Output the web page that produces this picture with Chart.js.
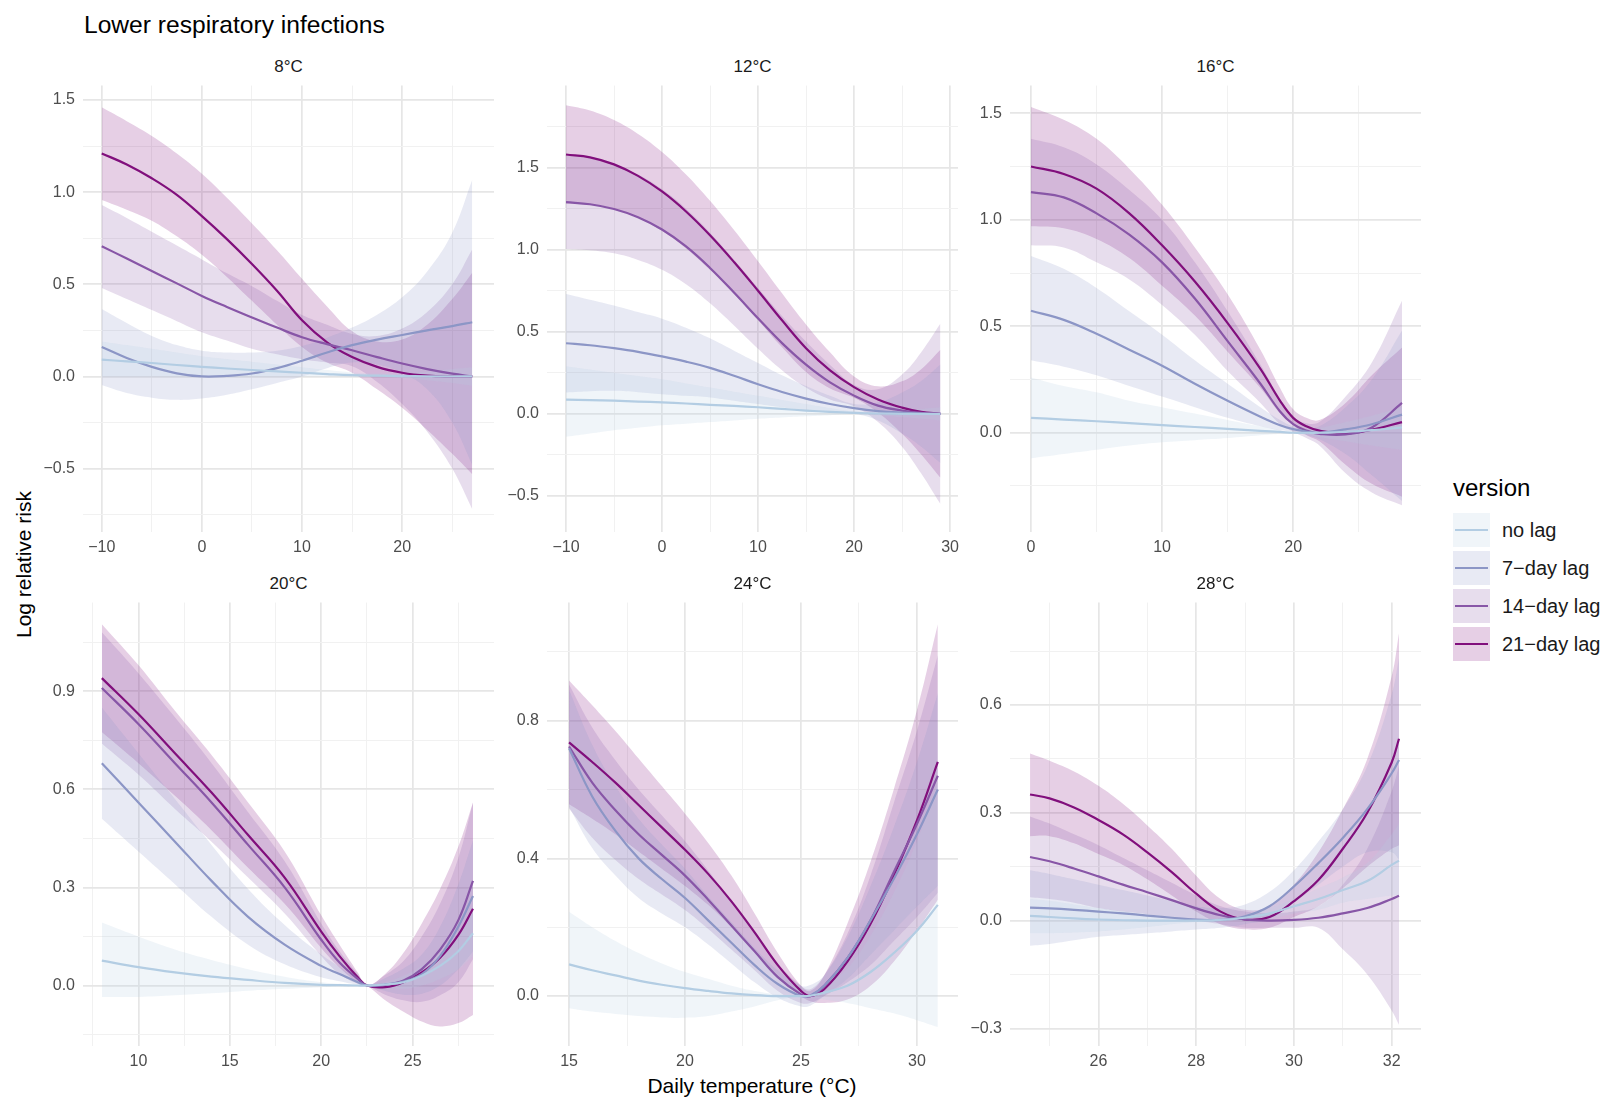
<!DOCTYPE html>
<html>
<head>
<meta charset="utf-8">
<title>Lower respiratory infections</title>
<script src="https://cdn.jsdelivr.net/npm/chart.js@4.4.1/dist/chart.umd.min.js"></script>
<style>
  body { margin: 0; background: #fff; font-family: "Liberation Sans", Arial, sans-serif; }
  #page { position: relative; width: 1608px; height: 1099px; overflow: hidden; background: #fff; }
  #page canvas { position: absolute; }
  .txt { position: absolute; line-height: 1; white-space: nowrap; }
  .strip { width: 411px; text-align: center; font-size: 17px; color: #1a1a1a; }
  .lg-box { position: absolute; width: 37px; height: 34px; }
  .lg-line { position: absolute; left: 2px; width: 33px; height: 2.5px; top: 15.75px; }
</style>
</head>
<body>
<div id="page">
  <div class="txt" style="left:84px; top:13px; font-size:24.6px; color:#000;">Lower respiratory infections</div>
  <div class="txt" style="left:552px; width:400px; text-align:center; top:1075px; font-size:21px; color:#000;">Daily temperature (°C)</div>
  <div class="txt" style="left:-127px; top:554px; width:300px; text-align:center; font-size:21px; color:#000; transform:rotate(-90deg);">Log relative risk</div>
</div>
<script>
// series names and colours (BuPu)
const versions = ['no lag', '7\u2212day lag', '14\u2212day lag', '21\u2212day lag'];
const lineColors = ['#b3cde3', '#8c96c6', '#8856a7', '#810f7c'];

// ---- 8°C ----
const t8_x = [-10, -7.5, -5, -2.5, 0, 2.5, 5, 7.5, 10, 12.5, 15, 17.5, 20, 22.5, 25, 27];
const t8_noLag = [0.091, 0.082, 0.073, 0.062, 0.052, 0.043, 0.035, 0.027, 0.02, 0.013, 0.007, 0.004, 0.002, 0.001, 0.0, 0.0];
const t8_noLagLo = [0.0, 0.0, 0.0, 0.0, 0.0, 0.0, 0.0, 0.0, 0.0, 0.0, -0.002, -0.005, -0.01, -0.02, -0.035, -0.05];
const t8_noLagHi = [0.19, 0.17, 0.15, 0.13, 0.11, 0.095, 0.08, 0.065, 0.05, 0.035, 0.022, 0.016, 0.016, 0.025, 0.04, 0.05];
const t8_lag7 = [0.16, 0.1, 0.052, 0.017, 0.0, 0.003, 0.016, 0.045, 0.085, 0.13, 0.17, 0.2, 0.225, 0.25, 0.273, 0.294];
const t8_lag7Lo = [-0.047, -0.09, -0.115, -0.127, -0.12, -0.1, -0.07, -0.035, 0.0, 0.045, 0.075, 0.065, 0.02, -0.07, -0.25, -0.48];
const t8_lag7Hi = [0.366, 0.29, 0.22, 0.17, 0.14, 0.13, 0.13, 0.14, 0.165, 0.21, 0.265, 0.335, 0.43, 0.57, 0.78, 1.067];
const t8_lag14 = [0.706, 0.64, 0.572, 0.505, 0.437, 0.377, 0.32, 0.265, 0.213, 0.175, 0.142, 0.105, 0.07, 0.04, 0.015, 0.0];
const t8_lag14Lo = [0.48, 0.42, 0.36, 0.3, 0.24, 0.195, 0.15, 0.12, 0.093, 0.075, 0.055, -0.03, -0.15, -0.3, -0.5, -0.72];
const t8_lag14Hi = [0.93, 0.86, 0.785, 0.71, 0.635, 0.56, 0.49, 0.41, 0.333, 0.28, 0.23, 0.22, 0.26, 0.35, 0.5, 0.69];
const t8_lag21 = [1.21, 1.15, 1.075, 0.985, 0.87, 0.745, 0.61, 0.465, 0.305, 0.185, 0.105, 0.052, 0.02, 0.004, 0.0, 0.0];
const t8_lag21Lo = [0.957, 0.905, 0.845, 0.76, 0.66, 0.54, 0.41, 0.28, 0.16, 0.075, 0.02, -0.07, -0.17, -0.29, -0.42, -0.53];
const t8_lag21Hi = [1.46, 1.385, 1.305, 1.21, 1.1, 0.97, 0.83, 0.685, 0.53, 0.38, 0.245, 0.19, 0.2, 0.28, 0.42, 0.563];

// ---- 12°C ----
const t12_x = [-10, -7.5, -5, -2.5, 0, 2.5, 5, 7.5, 10, 12.5, 15, 17.5, 20, 22.5, 25, 27, 29];
const t12_noLag = [0.086, 0.083, 0.08, 0.075, 0.07, 0.063, 0.055, 0.048, 0.04, 0.03, 0.02, 0.012, 0.006, 0.002, 0.0, 0.0, 0.0];
const t12_noLagLo = [-0.14, -0.12, -0.1, -0.085, -0.07, -0.06, -0.05, -0.04, -0.03, -0.022, -0.015, -0.008, -0.003, -0.01, -0.02, -0.03, -0.04];
const t12_noLagHi = [0.29, 0.27, 0.25, 0.23, 0.21, 0.185, 0.16, 0.135, 0.11, 0.085, 0.06, 0.035, 0.015, 0.012, 0.02, 0.03, 0.04];
const t12_lag7 = [0.43, 0.418, 0.40, 0.378, 0.35, 0.318, 0.28, 0.232, 0.18, 0.133, 0.093, 0.06, 0.035, 0.017, 0.007, 0.002, 0.0];
const t12_lag7Lo = [0.13, 0.138, 0.14, 0.132, 0.12, 0.11, 0.1, 0.08, 0.06, 0.04, 0.02, 0.008, 0.0, -0.04, -0.12, -0.2, -0.3];
const t12_lag7Hi = [0.73, 0.695, 0.66, 0.62, 0.58, 0.525, 0.46, 0.385, 0.31, 0.235, 0.17, 0.11, 0.06, 0.07, 0.13, 0.2, 0.3];
const t12_lag14 = [1.29, 1.277, 1.248, 1.198, 1.123, 1.02, 0.889, 0.739, 0.582, 0.431, 0.30, 0.192, 0.111, 0.05, 0.02, 0.006, 0.0];
const t12_lag14Lo = [1.005, 0.997, 0.978, 0.938, 0.878, 0.79, 0.674, 0.539, 0.397, 0.266, 0.16, 0.087, 0.046, -0.05, -0.2, -0.364, -0.55];
const t12_lag14Hi = [1.575, 1.557, 1.518, 1.458, 1.368, 1.25, 1.104, 0.939, 0.767, 0.596, 0.44, 0.297, 0.176, 0.15, 0.24, 0.376, 0.55];
const t12_lag21 = [1.58, 1.563, 1.52, 1.45, 1.355, 1.233, 1.088, 0.925, 0.75, 0.57, 0.40, 0.265, 0.163, 0.088, 0.038, 0.012, 0.0];
const t12_lag21Lo = [1.28, 1.278, 1.25, 1.195, 1.115, 1.008, 0.878, 0.73, 0.57, 0.405, 0.255, 0.155, 0.098, 0.008, -0.122, -0.248, -0.39];
const t12_lag21Hi = [1.88, 1.848, 1.79, 1.705, 1.595, 1.458, 1.298, 1.12, 0.93, 0.735, 0.545, 0.375, 0.228, 0.168, 0.198, 0.272, 0.39];

// ---- 16°C ----
const t16_x = [0, 2.5, 5, 7.5, 10, 12.5, 15, 17.5, 19, 20, 21, 22, 24, 26, 28.3];
const t16_noLag = [0.07, 0.062, 0.054, 0.045, 0.036, 0.027, 0.018, 0.009, 0.004, 0.0, 0.0, 0.0, 0.004, 0.012, 0.025];
const t16_noLagLo = [-0.12, -0.1, -0.08, -0.06, -0.045, -0.035, -0.025, -0.012, -0.005, 0.0, -0.008, -0.02, -0.04, -0.06, -0.08];
const t16_noLagHi = [0.26, 0.22, 0.19, 0.15, 0.12, 0.09, 0.06, 0.03, 0.012, 0.0, 0.008, 0.02, 0.05, 0.08, 0.12];
const t16_lag7 = [0.573, 0.53, 0.465, 0.39, 0.315, 0.23, 0.15, 0.075, 0.035, 0.017, 0.006, 0.0, 0.016, 0.04, 0.085];
const t16_lag7Lo = [0.34, 0.31, 0.27, 0.22, 0.17, 0.12, 0.07, 0.03, 0.01, 0.005, -0.01, -0.03, -0.1, -0.2, -0.32];
const t16_lag7Hi = [0.83, 0.77, 0.68, 0.57, 0.46, 0.34, 0.23, 0.12, 0.06, 0.03, 0.02, 0.03, 0.12, 0.25, 0.48];
const t16_lag14 = [1.13, 1.105, 1.03, 0.93, 0.80, 0.63, 0.43, 0.23, 0.10, 0.04, 0.01, -0.005, -0.008, 0.025, 0.14];
const t16_lag14Lo = [0.88, 0.87, 0.8, 0.72, 0.6, 0.46, 0.29, 0.14, 0.04, 0.005, -0.025, -0.06, -0.19, -0.28, -0.34];
const t16_lag14Hi = [1.38, 1.34, 1.26, 1.14, 1.0, 0.8, 0.57, 0.32, 0.16, 0.075, 0.045, 0.05, 0.17, 0.33, 0.62];
const t16_lag21 = [1.25, 1.215, 1.146, 1.03, 0.88, 0.71, 0.515, 0.30, 0.15, 0.07, 0.03, 0.01, -0.003, 0.015, 0.05];
const t16_lag21Lo = [0.97, 0.96, 0.91, 0.82, 0.69, 0.55, 0.38, 0.21, 0.09, 0.035, -0.01, -0.04, -0.15, -0.24, -0.3];
const t16_lag21Hi = [1.53, 1.47, 1.38, 1.24, 1.07, 0.87, 0.65, 0.39, 0.21, 0.11, 0.07, 0.06, 0.14, 0.27, 0.4];

// ---- 20°C ----
const t20_x = [8, 10, 12, 14, 16, 18, 20, 21, 22, 22.5, 23.5, 24.5, 25.5, 26.5, 27.5, 28.3];
const t20_noLag = [0.076, 0.056, 0.04, 0.027, 0.017, 0.008, 0.002, 0.001, 0.0, 0.0, 0.003, 0.01, 0.03, 0.06, 0.105, 0.16];
const t20_noLagLo = [-0.035, -0.035, -0.03, -0.024, -0.016, -0.01, -0.005, -0.002, 0.0, 0.0, -0.004, -0.01, 0.0, 0.02, 0.05, 0.09];
const t20_noLagHi = [0.193, 0.15, 0.11, 0.078, 0.05, 0.027, 0.01, 0.005, 0.001, 0.0, 0.01, 0.03, 0.06, 0.1, 0.16, 0.23];
const t20_lag7 = [0.68, 0.56, 0.44, 0.32, 0.21, 0.125, 0.06, 0.035, 0.01, 0.0, 0.003, 0.012, 0.035, 0.09, 0.18, 0.274];
const t20_lag7Lo = [0.51, 0.41, 0.31, 0.21, 0.125, 0.065, 0.025, 0.013, 0.002, 0.0, -0.017, -0.028, -0.025, 0.0, 0.05, 0.104];
const t20_lag7Hi = [0.85, 0.71, 0.57, 0.43, 0.295, 0.185, 0.095, 0.057, 0.018, 0.0, 0.023, 0.052, 0.095, 0.18, 0.31, 0.444];
const t20_lag14 = [0.91, 0.80, 0.68, 0.56, 0.43, 0.30, 0.14, 0.07, 0.02, 0.0, 0.002, 0.015, 0.05, 0.11, 0.2, 0.32];
const t20_lag14Lo = [0.74, 0.645, 0.54, 0.44, 0.33, 0.22, 0.09, 0.035, 0.005, 0.0, -0.028, -0.045, -0.05, -0.03, 0.01, 0.08];
const t20_lag14Hi = [1.08, 0.955, 0.82, 0.68, 0.53, 0.38, 0.19, 0.105, 0.035, 0.0, 0.032, 0.075, 0.15, 0.25, 0.39, 0.56];
const t20_lag21 = [0.94, 0.83, 0.71, 0.59, 0.46, 0.33, 0.165, 0.09, 0.025, 0.0, -0.005, 0.01, 0.04, 0.085, 0.155, 0.235];
const t20_lag21Lo = [0.775, 0.68, 0.58, 0.475, 0.36, 0.25, 0.115, 0.055, 0.01, 0.0, -0.045, -0.08, -0.11, -0.125, -0.115, -0.09];
const t20_lag21Hi = [1.105, 0.98, 0.84, 0.705, 0.56, 0.41, 0.215, 0.125, 0.04, 0.0, 0.035, 0.1, 0.19, 0.295, 0.425, 0.56];

// ---- 24°C ----
const t24_x = [15, 16, 17, 18, 19, 20, 21, 22, 23, 24, 25, 25.4, 26, 27, 28, 29, 30, 30.9];
const t24_noLag = [0.092, 0.075, 0.06, 0.045, 0.033, 0.023, 0.015, 0.008, 0.003, 0.0, 0.0, 0.001, 0.01, 0.03, 0.07, 0.125, 0.19, 0.265];
const t24_noLagLo = [-0.035, -0.045, -0.052, -0.058, -0.062, -0.063, -0.058, -0.045, -0.03, -0.012, 0.0, -0.002, -0.01, -0.02, -0.035, -0.05, -0.07, -0.09];
const t24_noLagHi = [0.245, 0.2, 0.16, 0.125, 0.095, 0.07, 0.05, 0.03, 0.015, 0.005, 0.0, 0.004, 0.03, 0.08, 0.175, 0.3, 0.45, 0.62];
const t24_lag7 = [0.72, 0.58, 0.48, 0.40, 0.34, 0.285, 0.22, 0.155, 0.09, 0.035, 0.0, 0.002, 0.03, 0.11, 0.22, 0.34, 0.47, 0.6];
const t24_lag7Lo = [0.55, 0.43, 0.35, 0.285, 0.24, 0.2, 0.15, 0.095, 0.04, -0.005, -0.03, -0.028, 0.0, 0.05, 0.12, 0.19, 0.26, 0.32];
const t24_lag7Hi = [0.89, 0.73, 0.61, 0.515, 0.44, 0.37, 0.29, 0.215, 0.14, 0.075, 0.03, 0.032, 0.06, 0.17, 0.32, 0.49, 0.68, 0.88];
const t24_lag14 = [0.725, 0.62, 0.54, 0.47, 0.41, 0.35, 0.28, 0.205, 0.13, 0.055, 0.005, 0.0, 0.03, 0.11, 0.22, 0.36, 0.5, 0.64];
const t24_lag14Lo = [0.545, 0.46, 0.395, 0.34, 0.295, 0.25, 0.195, 0.135, 0.075, 0.015, -0.02, -0.02, 0.0, 0.04, 0.09, 0.16, 0.23, 0.3];
const t24_lag14Hi = [0.905, 0.78, 0.685, 0.6, 0.525, 0.45, 0.365, 0.275, 0.185, 0.095, 0.03, 0.02, 0.06, 0.18, 0.35, 0.56, 0.77, 0.99];
const t24_lag21 = [0.737, 0.68, 0.62, 0.555, 0.49, 0.425, 0.355, 0.275, 0.185, 0.09, 0.015, 0.0, 0.02, 0.1, 0.21, 0.35, 0.51, 0.68];
const t24_lag21Lo = [0.557, 0.515, 0.47, 0.42, 0.37, 0.32, 0.265, 0.2, 0.13, 0.055, 0.0, -0.015, -0.02, -0.01, 0.03, 0.1, 0.19, 0.28];
const t24_lag21Hi = [0.917, 0.845, 0.77, 0.69, 0.61, 0.53, 0.445, 0.35, 0.24, 0.125, 0.03, 0.015, 0.06, 0.21, 0.39, 0.6, 0.83, 1.08];

// ---- 28°C ----
const t28_x = [24.6, 25, 25.5, 26, 26.5, 27, 27.5, 28, 28.5, 29, 29.5, 30, 30.5, 31, 31.5, 32, 32.15];
const t28_noLag = [0.013, 0.01, 0.006, 0.003, 0.001, 0.0, 0.0, 0.0, 0.002, 0.008, 0.02, 0.04, 0.06, 0.085, 0.11, 0.155, 0.167];
const t28_noLagLo = [-0.035, -0.035, -0.033, -0.03, -0.025, -0.018, -0.01, -0.004, -0.002, 0.0, 0.005, 0.02, 0.03, 0.05, 0.06, 0.07, 0.07];
const t28_noLagHi = [0.06, 0.055, 0.045, 0.035, 0.025, 0.015, 0.008, 0.004, 0.006, 0.015, 0.035, 0.06, 0.09, 0.12, 0.16, 0.24, 0.27];
const t28_lag7 = [0.036, 0.034, 0.03, 0.025, 0.02, 0.014, 0.008, 0.003, 0.002, 0.012, 0.04, 0.095, 0.16, 0.23, 0.31, 0.41, 0.447];
const t28_lag7Lo = [-0.07, -0.065, -0.055, -0.045, -0.04, -0.035, -0.03, -0.025, -0.02, -0.01, 0.005, 0.05, 0.1, 0.15, 0.19, 0.19, 0.17];
const t28_lag7Hi = [0.14, 0.13, 0.115, 0.1, 0.085, 0.07, 0.055, 0.04, 0.035, 0.045, 0.08, 0.14, 0.22, 0.31, 0.43, 0.63, 0.73];
const t28_lag14 = [0.177, 0.165, 0.145, 0.123, 0.1, 0.079, 0.057, 0.034, 0.015, 0.003, 0.0, 0.002, 0.008, 0.02, 0.035, 0.06, 0.069];
const t28_lag14Lo = [0.065, 0.06, 0.05, 0.035, 0.025, 0.018, 0.01, 0.0, -0.01, -0.02, -0.02, -0.02, -0.02, -0.08, -0.15, -0.25, -0.29];
const t28_lag14Hi = [0.29, 0.27, 0.24, 0.21, 0.175, 0.14, 0.105, 0.07, 0.04, 0.025, 0.02, 0.025, 0.04, 0.1, 0.2, 0.36, 0.43];
const t28_lag21 = [0.351, 0.34, 0.315, 0.28, 0.24, 0.19, 0.135, 0.075, 0.025, 0.003, 0.01, 0.054, 0.113, 0.2, 0.3, 0.44, 0.506];
const t28_lag21Lo = [0.235, 0.235, 0.215, 0.185, 0.155, 0.115, 0.07, 0.025, -0.01, -0.024, -0.02, 0.01, 0.04, 0.09, 0.15, 0.2, 0.21];
const t28_lag21Hi = [0.465, 0.445, 0.415, 0.375, 0.325, 0.265, 0.2, 0.125, 0.06, 0.03, 0.04, 0.1, 0.19, 0.31, 0.45, 0.68, 0.8];

// tick values (labelled = major, unlabelled = minor grid)
const t8_xMajor = [-10, 0, 10, 20], t8_xMinor = [-5, 5, 15, 25];
const t8_yMajor = [-0.5, 0, 0.5, 1, 1.5], t8_yMinor = [-0.75, -0.25, 0.25, 0.75, 1.25];
const t12_xMajor = [-10, 0, 10, 20, 30], t12_xMinor = [-5, 5, 15, 25];
const t12_yMajor = [-0.5, 0, 0.5, 1, 1.5], t12_yMinor = [-0.25, 0.25, 0.75, 1.25, 1.75];
const t16_xMajor = [0, 10, 20], t16_xMinor = [5, 15, 25];
const t16_yMajor = [0, 0.5, 1, 1.5], t16_yMinor = [-0.25, 0.25, 0.75, 1.25];
const t20_xMajor = [10, 15, 20, 25], t20_xMinor = [7.5, 12.5, 17.5, 22.5, 27.5];
const t20_yMajor = [0, 0.3, 0.6, 0.9], t20_yMinor = [-0.15, 0.15, 0.45, 0.75, 1.05];
const t24_xMajor = [15, 20, 25, 30], t24_xMinor = [17.5, 22.5, 27.5];
const t24_yMajor = [0, 0.4, 0.8], t24_yMinor = [0.2, 0.6, 1.0];
const t28_xMajor = [26, 28, 30, 32], t28_xMinor = [25, 27, 29, 31];
const t28_yMajor = [-0.3, 0, 0.3, 0.6], t28_yMinor = [-0.15, 0.15, 0.45, 0.75];

const panels = [
  { title: '8\u00b0C', x: t8_x, xLim: [-11.87, 29.17], yLim: [-0.844, 1.578],
    xMajor: t8_xMajor, xMinor: t8_xMinor, yMajor: t8_yMajor, yMinor: t8_yMinor,
    series: [[t8_noLag, t8_noLagLo, t8_noLagHi], [t8_lag7, t8_lag7Lo, t8_lag7Hi],
             [t8_lag14, t8_lag14Lo, t8_lag14Hi], [t8_lag21, t8_lag21Lo, t8_lag21Hi]] },
  { title: '12\u00b0C', x: t12_x, xLim: [-11.98, 30.83], yLim: [-0.72, 2.0],
    xMajor: t12_xMajor, xMinor: t12_xMinor, yMajor: t12_yMajor, yMinor: t12_yMinor,
    series: [[t12_noLag, t12_noLagLo, t12_noLagHi], [t12_lag7, t12_lag7Lo, t12_lag7Hi],
             [t12_lag14, t12_lag14Lo, t12_lag14Hi], [t12_lag21, t12_lag21Lo, t12_lag21Hi]] },
  { title: '16\u00b0C', x: t16_x, xLim: [-1.6, 29.75], yLim: [-0.466, 1.63],
    xMajor: t16_xMajor, xMinor: t16_xMinor, yMajor: t16_yMajor, yMinor: t16_yMinor,
    series: [[t16_noLag, t16_noLagLo, t16_noLagHi], [t16_lag7, t16_lag7Lo, t16_lag7Hi],
             [t16_lag14, t16_lag14Lo, t16_lag14Hi], [t16_lag21, t16_lag21Lo, t16_lag21Hi]] },
  { title: '20\u00b0C', x: t20_x, xLim: [6.97, 29.45], yLim: [-0.185, 1.171],
    xMajor: t20_xMajor, xMinor: t20_xMinor, yMajor: t20_yMajor, yMinor: t20_yMinor,
    series: [[t20_noLag, t20_noLagLo, t20_noLagHi], [t20_lag7, t20_lag7Lo, t20_lag7Hi],
             [t20_lag14, t20_lag14Lo, t20_lag14Hi], [t20_lag21, t20_lag21Lo, t20_lag21Hi]] },
  { title: '24\u00b0C', x: t24_x, xLim: [14.05, 31.77], yLim: [-0.145, 1.143],
    xMajor: t24_xMajor, xMinor: t24_xMinor, yMajor: t24_yMajor, yMinor: t24_yMinor,
    series: [[t24_noLag, t24_noLagLo, t24_noLagHi], [t24_lag7, t24_lag7Lo, t24_lag7Hi],
             [t24_lag14, t24_lag14Lo, t24_lag14Hi], [t24_lag21, t24_lag21Lo, t24_lag21Hi]] },
  { title: '28\u00b0C', x: t28_x, xLim: [24.19, 32.6], yLim: [-0.349, 0.885],
    xMajor: t28_xMajor, xMinor: t28_xMinor, yMajor: t28_yMajor, yMinor: t28_yMinor,
    series: [[t28_noLag, t28_noLagLo, t28_noLagHi], [t28_lag7, t28_lag7Lo, t28_lag7Hi],
             [t28_lag14, t28_lag14Lo, t28_lag14Hi], [t28_lag21, t28_lag21Lo, t28_lag21Hi]] }
];

// layout of the facet grid (pixels)
const PLOT_W = 411;
const COL_LEFT = [83, 547, 1010];
const ROW_TOP = [82, 599];
const ROW_H = [450, 447];
const STRIP_TOP = [58, 575];
const AXIS_W = 70, AXIS_H = 34, PAD = 14;
const CURVE_TENSION = 0.4;

Chart.defaults.font.family = '"Liberation Sans", Arial, sans-serif';

function rgba(hex, a) {
    const n = parseInt(hex.slice(1), 16);
    return `rgba(${(n >> 16) & 255}, ${(n >> 8) & 255}, ${n & 255}, ${a})`;
}

function has(list, v) {
    return list.some(t => Math.abs(t - v) < 1e-9);
}

function fmt(v, digits) {
    return (v < -1e-9 ? '\u2212' : '') + Math.abs(v).toFixed(digits);
}

function axisOptions(lim, major, minor, digits, isX) {
    return {
        type: 'linear',
        min: lim[0],
        max: lim[1],
        bounds: 'data',
        afterBuildTicks: (scale) => {
            scale.ticks = [...major, ...minor].sort((a, b) => a - b).map(v => ({ value: v }));
        },
        afterFit: (scale) => {
            if (isX) scale.height = AXIS_H; else scale.width = AXIS_W;
        },
        border: { display: false },
        grid: {
            drawTicks: false,
            color: ctx => has(major, ctx.tick.value) ? '#e6e6e6' : '#f1f1f1',
            lineWidth: ctx => has(major, ctx.tick.value) ? 1.7 : 1
        },
        ticks: {
            autoSkip: false,
            maxRotation: 0,
            padding: isX ? 6 : 8,
            color: '#4d4d4d',
            font: { size: 16 },
            callback: (v) => has(major, v) ? fmt(v, digits) : ''
        }
    };
}

const page = document.getElementById('page');

panels.forEach((p, i) => {
    const col = i % 3, row = Math.floor(i / 3);
    const plotLeft = COL_LEFT[col], plotTop = ROW_TOP[row], plotH = ROW_H[row];

    const strip = document.createElement('div');
    strip.className = 'txt strip';
    strip.style.left = plotLeft + 'px';
    strip.style.top = STRIP_TOP[row] + 'px';
    strip.textContent = p.title;
    page.appendChild(strip);

    const canvas = document.createElement('canvas');
    canvas.width = AXIS_W + PLOT_W + PAD;
    canvas.height = PAD + plotH + AXIS_H;
    canvas.style.left = (plotLeft - AXIS_W) + 'px';
    canvas.style.top = (plotTop - PAD) + 'px';
    page.appendChild(canvas);

    const pts = arr => p.x.map((x, j) => ({ x: x, y: arr[j] }));
    const datasets = [];

    // confidence ribbons: upper edge, then lower edge filled up to it
    p.series.forEach(([est, lo, hi], k) => {
        datasets.push({
            label: versions[k] + ' upper', data: pts(hi), order: 1,
            borderWidth: 0, borderColor: 'rgba(0,0,0,0)', pointRadius: 0, fill: false,
            tension: CURVE_TENSION
        });
        datasets.push({
            label: versions[k] + ' lower', data: pts(lo), order: 1,
            borderWidth: 0, borderColor: 'rgba(0,0,0,0)', pointRadius: 0,
            fill: '-1', backgroundColor: rgba(lineColors[k], 0.2),
            tension: CURVE_TENSION
        });
    });

    // estimate lines on top
    p.series.forEach(([est], k) => {
        datasets.push({
            label: versions[k], data: pts(est), order: 0,
            borderColor: lineColors[k], borderWidth: 2.2, pointRadius: 0, fill: false,
            tension: CURVE_TENSION
        });
    });

    new Chart(canvas, {
        type: 'line',
        data: { datasets: datasets },
        options: {
            responsive: false,
            animation: false,
            devicePixelRatio: 1,
            events: [],
            layout: { padding: { top: PAD, right: PAD, left: 0, bottom: 0 } },
            plugins: {
                legend: { display: false },
                tooltip: { enabled: false },
                filler: { propagate: false }
            },
            scales: {
                x: axisOptions(p.xLim, p.xMajor, p.xMinor, 0, true),
                y: axisOptions(p.yLim, p.yMajor, p.yMinor, 1, false)
            }
        }
    });
});

// legend
const lg = document.createElement('div');
lg.className = 'txt';
lg.style.left = '1453px';
lg.style.top = '476px';
lg.style.fontSize = '24px';
lg.style.color = '#000';
lg.textContent = 'version';
page.appendChild(lg);

versions.forEach((name, k) => {
    const top = 513 + k * 38;
    const box = document.createElement('div');
    box.className = 'lg-box';
    box.style.left = '1453px';
    box.style.top = top + 'px';
    box.style.background = rgba(lineColors[k], 0.2);
    const line = document.createElement('div');
    line.className = 'lg-line';
    line.style.background = lineColors[k];
    box.appendChild(line);
    page.appendChild(box);

    const label = document.createElement('div');
    label.className = 'txt';
    label.style.left = '1502px';
    label.style.top = (top + 6.5) + 'px';
    label.style.fontSize = '20px';
    label.style.color = '#1a1a1a';
    label.textContent = name;
    page.appendChild(label);
});
</script>
</body>
</html>
